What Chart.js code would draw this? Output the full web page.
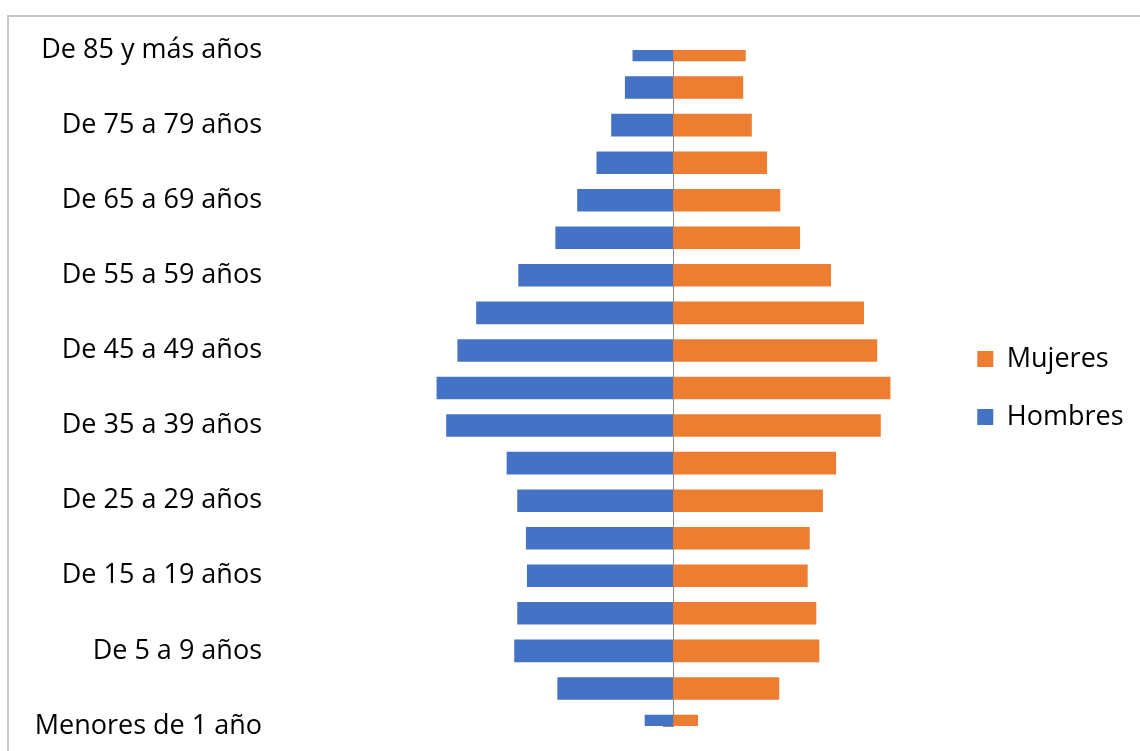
<!DOCTYPE html>
<html lang="es">
<head>
<meta charset="utf-8">
<title>Pirámide de población</title>
<script src="https://cdn.jsdelivr.net/npm/chart.js@4/dist/chart.umd.min.js"></script>
<style>
  html, body { margin: 0; padding: 0; background: #ffffff; }
  body { width: 1140px; height: 751px; position: relative; overflow: hidden; }
  #marco { position: absolute; left: 7px; top: 15px; width: 1300px; height: 900px;
           border-top: 2px solid #c6c6c6; border-left: 2px solid #c6c6c6; box-sizing: border-box; }
  #lienzo { position: absolute; left: 0; top: 0; }
</style>
</head>
<body>
<div id="marco"></div>
<canvas id="lienzo" width="1140" height="751"></canvas>
<script>
// Grupos de edad, de arriba hacia abajo
const edades = [
  'De 85 y más años', 'De 80 a 84 años', 'De 75 a 79 años', 'De 70 a 74 años',
  'De 65 a 69 años', 'De 60 a 64 años', 'De 55 a 59 años', 'De 50 a 54 años',
  'De 45 a 49 años', 'De 40 a 44 años', 'De 35 a 39 años', 'De 30 a 34 años',
  'De 25 a 29 años', 'De 20 a 24 años', 'De 15 a 19 años', 'De 10 a 14 años',
  'De 5 a 9 años', 'De 1 a 4 años', 'Menores de 1 año'
];

// Porcentaje de la población total por sexo
const hombres = [0.80, 0.95, 1.22, 1.51, 1.89, 2.32, 3.05, 3.88, 4.25, 4.66,
                 4.47, 3.28, 3.07, 2.90, 2.88, 3.07, 3.13, 2.28, 0.56];
const mujeres = [1.43, 1.38, 1.55, 1.85, 2.11, 2.50, 3.11, 3.76, 4.02, 4.28,
                 4.09, 3.21, 2.95, 2.69, 2.65, 2.82, 2.88, 2.09, 0.49];

const FUENTE = '"Open Sans", "Noto Sans", sans-serif';

new Chart(document.getElementById('lienzo'), {
  type: 'bar',
  data: {
    labels: edades,
    datasets: [
      {
        label: 'Mujeres',
        data: mujeres,
        backgroundColor: '#ED7D31',
        borderWidth: 0,
        clip: 0
      },
      {
        label: 'Hombres',
        data: hombres.map(v => -v),
        backgroundColor: '#4472C4',
        borderWidth: 0,
        clip: 0
      }
    ]
  },
  options: {
    indexAxis: 'y',
    responsive: false,
    animation: false,
    devicePixelRatio: 1,
    categoryPercentage: 1,
    barPercentage: 0.6,
    layout: { padding: { left: 0, right: 6.5, top: 50, bottom: 25 } },
    scales: {
      x: {
        display: false,
        stacked: true,
        min: -8,
        max: 5.38
      },
      y: {
        stacked: true,
        offset: false,
        grid: { display: false, drawTicks: false, offset: false },
        border: { display: false },
        ticks: {
          autoSkip: false,
          padding: 5,
          color: '#000000',
          font: { family: FUENTE, size: 27 },
          callback: function (valor, i) {
            return i % 2 === 0 ? this.getLabelForValue(valor) : '';
          }
        },
        afterFit: (escala) => { escala.width = 267; }
      },
      eje: {
        type: 'category',
        axis: 'y',
        position: { x: 0 },
        offset: false,
        z: 1,
        grid: {
          display: true,
          drawOnChartArea: false,
          drawTicks: true,
          tickLength: 10,
          offset: false,
          color: '#8a8a8a',
          lineWidth: 1
        },
        border: { display: true, color: '#8a8a8a', width: 1 },
        ticks: { display: false },
        afterFit: (escala) => { escala.width = 0; }
      }
    },
    plugins: {
      tooltip: { enabled: false },
      legend: {
        position: 'right',
        align: 'center',
        labels: {
          boxWidth: 16,
          boxHeight: 16,
          padding: 31,
          color: '#000000',
          font: { family: FUENTE, size: 27 }
        }
      }
    }
  }
});
</script>
</body>
</html>
